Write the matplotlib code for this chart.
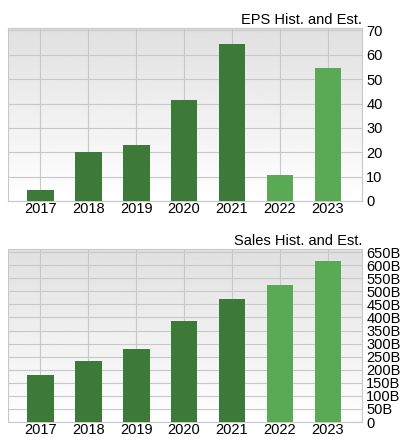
import matplotlib
matplotlib.use("Agg")
import matplotlib.pyplot as plt
import numpy as np

plt.rcParams['font.family'] = ['Liberation Sans', 'DejaVu Sans']

years = ["2017","2018","2019","2020","2021","2022","2023"]
eps = [4.5, 20, 23, 41.5, 64.5, 10.5, 54.5]
sales = [178, 233, 280, 386, 470, 526, 617]
estimated = [False, False, False, False, False, True, True]
eps_ticks = [0,10,20,30,40,50,60,70]
sales_ticks = list(range(0, 651, 50))

dark, light = "#3d7a3a", "#5aaa55"
W, H = 415, 437
fig = plt.figure(figsize=(W/100, H/100), dpi=100)

def panel(rect, vals, ticks, labels, ymax, title):
    ax = fig.add_axes(rect)
    x = np.arange(len(years))
    grad = np.linspace(0.88, 1.0, 100).reshape(-1, 1)
    ax.imshow(grad, cmap="gray", vmin=0, vmax=1, aspect="auto", origin="upper",
              extent=(-0.67, 6.71, 0, ymax), zorder=0)
    ax.bar(x, vals, width=0.56, color=[light if e else dark for e in estimated], zorder=3)
    ax.set_xlim(-0.67, 6.71)
    ax.set_ylim(0, ymax)
    ax.set_xticks(x)
    ax.set_xticklabels(years)
    ax.set_yticks(ticks)
    ax.set_yticklabels(labels)
    ax.yaxis.tick_right()
    ax.grid(True, color="#c8c8c8", lw=0.8, zorder=1)
    for s in ax.spines.values():
        s.set_color("#c8c8c8")
    ax.tick_params(length=0, labelsize=10.5, pad=1, colors="black")
    ax.tick_params(axis="y", pad=3)
    ax.set_title(title, loc="right", fontsize=10.5, pad=3)
    return ax

panel([8/W, 1-201/H, 354/W, 173/H], eps, eps_ticks, [str(t) for t in eps_ticks], 71, "EPS Hist. and Est.")
panel([8/W, 1-422/H, 354/W, 173/H], sales, sales_ticks,
      ["0"] + [f"{t}B" for t in sales_ticks[1:]], 662, "Sales Hist. and Est.")
fig.savefig("out.png", dpi=100)
